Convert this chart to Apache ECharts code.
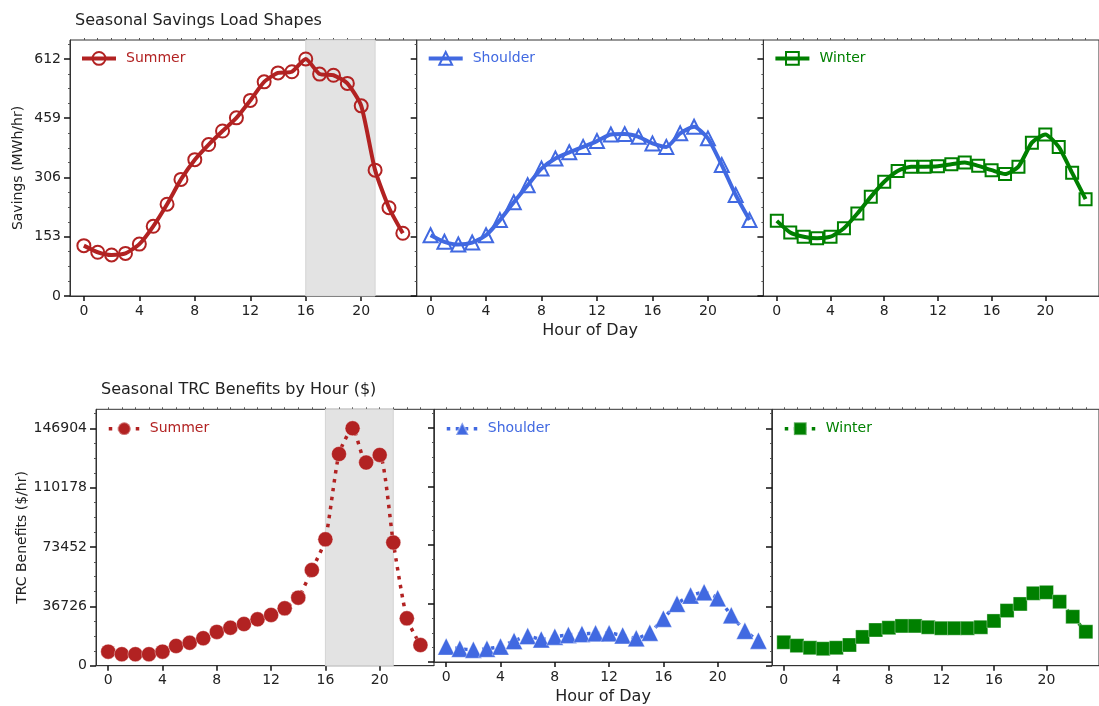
<!DOCTYPE html>
<html>
<head>
<meta charset="utf-8">
<script src="https://cdn.jsdelivr.net/npm/echarts@6/dist/echarts.min.js"></script>
<style>
  html, body { margin: 0; padding: 0; background: #fff; }
  #chart { width: 1099px; height: 706px; }
</style>
</head>
<body>
<div id="chart"></div>
<script>
// hour of day
const hours = [0, 1, 2, 3, 4, 5, 6, 7, 8, 9, 10, 11, 12, 13, 14, 15, 16, 17, 18, 19, 20, 21, 22, 23];
const hourTicks = [0, 4, 8, 12, 16, 20];

// savings (MWh/hr)
const savingsSummer = [130, 113, 106, 110, 134, 180, 237, 301, 352, 391, 426, 460, 505, 553, 576, 579, 612, 573, 570, 549, 491, 325, 228, 162];
const savingsShoulder = [157, 140, 133, 138, 157, 196, 242, 286, 329, 355, 371, 385, 400, 417, 418, 411, 394, 385, 420, 437, 407, 338, 261, 196];
const savingsWinter = [194, 164, 153, 149, 153, 175, 213, 256, 295, 323, 334, 334, 335, 340, 345, 336, 325, 315, 334, 396, 417, 385, 318, 250];
const savingsTicks = [0, 153, 306, 459, 612];

// TRC benefits ($/hr)
const benefitSummer = [8700, 7100, 7100, 7100, 8700, 12200, 14200, 17000, 20900, 23500, 25800, 28700, 31400, 35500, 42100, 59200, 78200, 131000, 146904, 125700, 130400, 76200, 29300, 12800];
const benefitShoulder = [9700, 8300, 7700, 8300, 9700, 13200, 16300, 14200, 15900, 17000, 17600, 18000, 18000, 16700, 14900, 18400, 27200, 36500, 41700, 43800, 40000, 29300, 19600, 13400];
const benefitWinter = [14500, 12400, 11100, 10500, 11100, 12800, 17800, 22100, 23500, 24600, 24600, 23800, 23200, 23200, 23200, 23800, 27700, 34100, 38200, 44800, 45400, 39600, 30300, 21000];
const benefitTicks = [0, 36726, 73452, 110178, 146904];

const seasons = ['Summer', 'Shoulder', 'Winter'];
const peakWindow = [16, 21];

const FONT = 'DejaVu Sans';
const TXT = '#222';

const rows = [
  { title: 'Seasonal Savings Load Shapes', yName: 'Savings (MWh/hr)', left: 70, top: 40, w: 346.7, h: 256,
    ymax: 661, ticks: savingsTicks, values: [savingsSummer, savingsShoulder, savingsWinter], xmin: -1, dotted: false },
  { title: 'Seasonal TRC Benefits by Hour ($)', yName: 'TRC Benefits ($/hr)', left: 96, top: 409.3, w: 338, h: 256.4,
    ymax: 158656, ticks: benefitTicks, values: [benefitSummer, benefitShoulder, benefitWinter], xmin: -0.9, dotted: true }
];

// per season look: [top row size, bottom row size]
const looks = [
  { color: '#B22222', symbol: 'circle', size: [13, 15] },
  { color: '#4169E1', symbol: 'triangle', size: [14, 17] },
  { color: '#008000', symbol: 'rect', size: [12, 14] }
];

const grid = [], xAxis = [], yAxis = [], series = [], legend = [], title = [];

rows.forEach((row, r) => {
  title.push({
    text: row.title, left: row.left, top: row.top - 32,
    textStyle: { fontFamily: FONT, fontSize: 16, fontWeight: 'normal', color: TXT }
  });
  seasons.forEach((season, k) => {
    const gi = r * 3 + k;
    const left = row.left + k * row.w;
    grid.push({ left: left, top: row.top, width: row.w, height: row.h, show: true,
      borderColor: '#333', borderWidth: 1, backgroundColor: 'transparent' });

    // major x ticks + labels
    xAxis.push({
      type: 'value', gridIndex: gi, min: row.xmin, max: 24,
      axisLine: { show: true, onZero: false, lineStyle: { color: '#333' } },
      axisTick: { customValues: hourTicks, length: 5, lineStyle: { color: '#111', width: 1.5 } },
      axisLabel: { customValues: hourTicks, fontFamily: FONT, fontSize: 14, color: TXT, margin: 8 },
      splitLine: { show: false },
      name: k === 1 ? 'Hour of Day' : '', nameLocation: 'middle', nameGap: 27,
      nameTextStyle: { fontFamily: FONT, fontSize: 16, color: TXT }
    });
    // minor x ticks
    xAxis.push({
      type: 'value', gridIndex: gi, min: row.xmin, max: 24,
      axisLine: { show: false, onZero: false },
      axisTick: { customValues: hours, length: 2, lineStyle: { color: '#555' } },
      axisLabel: { show: false },
      splitLine: { show: false }
    });

    yAxis.push({
      type: 'value', gridIndex: gi, min: 0, max: row.ymax, interval: row.ticks[1],
      axisLine: { show: true, onZero: false, lineStyle: { color: '#333' } },
      axisTick: { customValues: row.ticks, length: 6, lineStyle: { color: '#111', width: 1.5 } },
      minorTick: { show: true, splitNumber: 4, length: 2, lineStyle: { color: '#555' } },
      axisLabel: { show: k === 0, customValues: row.ticks, formatter: v => String(v),
        fontFamily: FONT, fontSize: 14, color: TXT, margin: 9 },
      splitLine: { show: false },
      name: k === 0 ? row.yName : '', nameLocation: 'middle', nameGap: row.dotted ? 66 : 45,
      nameTextStyle: { fontFamily: FONT, fontSize: 14, color: TXT }
    });

    const look = looks[k];
    const sname = season + '_' + r;
    const lineStyle = row.dotted
      ? { color: look.color, width: 3.5, type: [3.5, 5.5] }
      : { color: look.color, width: 4 };
    const s = {
      name: sname, type: 'line', xAxisIndex: gi * 2, yAxisIndex: gi,
      data: hours.map((h, i) => [h, row.values[k][i]]),
      smooth: 0.2, showSymbol: true, symbol: look.symbol, symbolSize: look.size[r],
      lineStyle: lineStyle,
      itemStyle: row.dotted
        ? { color: look.color, borderColor: 'rgba(255,255,255,0.35)', borderWidth: 1 }
        : { color: 'rgba(255,255,255,0)', borderColor: look.color, borderWidth: 2 },
      z: 3
    };
    if (k === 0) {
      s.markArea = {
        silent: true,
        itemStyle: { color: '#e3e3e3', borderColor: '#d4d4d4', borderWidth: 1 },
        data: [[{ xAxis: peakWindow[0] }, { xAxis: peakWindow[1] }]]
      };
    }
    series.push(s);

    legend.push({
      left: left + (row.dotted ? 6 : 5), top: row.top + (row.dotted ? 7 : 6),
      itemWidth: row.dotted ? 31 : 34, itemHeight: 16,
      data: [{ name: sname, textStyle: { color: look.color } }],
      formatter: n => n.split('_')[0],
      lineStyle: { width: row.dotted ? 3.5 : 4, type: row.dotted ? [3.5, 5.5] : 'solid', color: look.color },
      textStyle: { fontFamily: FONT, fontSize: 14, padding: [0, 0, 0, 5] }
    });
  });
});

const chart = echarts.init(document.getElementById('chart'));
chart.setOption({
  animation: false,
  backgroundColor: '#fff',
  title, grid, xAxis, yAxis, series, legend
});
</script>
</body>
</html>
